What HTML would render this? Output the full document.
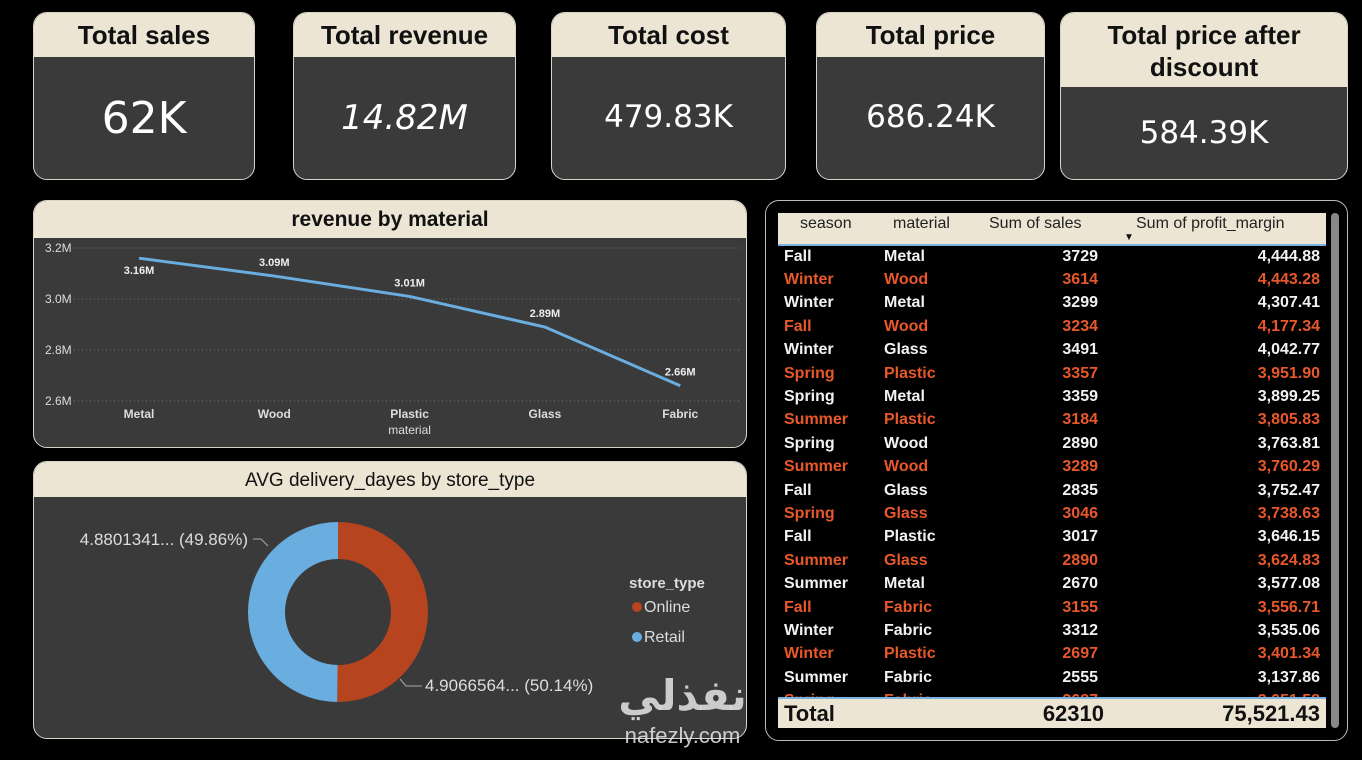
<!DOCTYPE html>
<html><head><meta charset="utf-8">
<style>
*{box-sizing:border-box;margin:0;padding:0}
body{width:1362px;height:760px;background:#000;position:relative;overflow:hidden;font-family:"Liberation Sans",sans-serif}
.card{position:absolute;background:#3a3a3a;border:1.5px solid #d8d4c8;border-radius:14px;overflow:hidden}
.hd{background:#ece5d3;color:#111;font-weight:bold;text-align:center}
.kv{color:#fff;text-align:center;position:absolute;left:0;right:0;font-family:"DejaVu Sans",sans-serif}
table{border-collapse:collapse;width:100%}
.tb td{height:23.4px;font-weight:bold;font-size:16px;color:#f2f2f2;padding:0 6px}
.tb tr.o td{color:#e8582a}
.r{text-align:right}
</style></head><body>
<div class="card" style="left:33px;top:12px;width:222px;height:168px">
 <div class="hd" style="height:44px;font-size:26px;line-height:44px">Total sales</div>
 <div class="kv" style="top:80px;font-size:44px">62K</div></div>
<div class="card" style="left:293px;top:12px;width:223px;height:168px">
 <div class="hd" style="height:44px;font-size:26px;line-height:44px">Total revenue</div>
 <div class="kv" style="top:85px;font-size:34px;font-style:italic">14.82M</div></div>
<div class="card" style="left:551px;top:12px;width:235px;height:168px">
 <div class="hd" style="height:44px;font-size:26px;line-height:44px">Total cost</div>
 <div class="kv" style="top:86px;font-size:31px">479.83K</div></div>
<div class="card" style="left:816px;top:12px;width:229px;height:168px">
 <div class="hd" style="height:44px;font-size:26px;line-height:44px">Total price</div>
 <div class="kv" style="top:86px;font-size:31px">686.24K</div></div>
<div class="card" style="left:1060px;top:12px;width:288px;height:168px">
 <div class="hd" style="height:74px;font-size:26px;line-height:32px;padding-top:6px">Total price after<br>discount</div>
 <div class="kv" style="top:102px;font-size:31px">584.39K</div></div>

<div class="card" style="left:33px;top:200px;width:714px;height:248px">
 <div class="hd" style="height:37px;font-size:21px;line-height:38px">revenue by material</div>
 <svg id="lc" width="714" height="211" style="position:absolute;left:0;top:37px"></svg>
</div>

<div class="card" style="left:33px;top:461px;width:714px;height:278px">
 <div class="hd" style="height:35px;font-size:19px;line-height:37px;font-weight:normal">AVG delivery_dayes by store_type</div>
 <svg id="dc" width="714" height="243" style="position:absolute;left:0;top:35px"></svg>
</div>

<div class="card" style="left:765px;top:200px;width:583px;height:541px;background:#000;border-color:#bbb">
 <div style="position:absolute;left:12px;top:12px;width:548px;height:33px;background:#ece5d3;border-bottom:2px solid #7bb3e0">
  <span style="position:absolute;left:22px;top:2px;font-size:16px;color:#222">season</span>
  <span style="position:absolute;left:115px;top:2px;font-size:16px;color:#222">material</span>
  <span style="position:absolute;left:211px;top:2px;font-size:16px;color:#222">Sum of sales</span>
  <span style="position:absolute;left:346px;top:19px;font-size:10px;color:#111">▼</span>
  <span style="position:absolute;left:358px;top:2px;font-size:16px;color:#222">Sum of profit_margin</span>
 </div>
 <div style="position:absolute;left:12px;top:44px;width:548px;height:452px;overflow:hidden">
 <table class="tb" id="tb"></table></div>
 <div style="position:absolute;left:12px;top:496px;width:548px;height:31px;background:#ece5d3;border-top:2px solid #7bb3e0;font-weight:bold;font-size:22px;color:#111">
  <span style="position:absolute;left:6px;top:2px">Total</span>
  <span style="position:absolute;right:222px;top:2px">62310</span>
  <span style="position:absolute;right:6px;top:2px">75,521.43</span></div>
 <div style="position:absolute;left:565px;top:12px;width:8px;height:515px;background:#888;border-radius:4px"></div>
</div>

<div style="position:absolute;left:595px;top:668px;width:175px;text-align:center;color:rgba(230,230,230,0.85)">
 <div style="font-family:'DejaVu Sans',sans-serif;font-size:42px;font-weight:bold;line-height:56px">نفذلي</div>
 <div style="font-size:22px;line-height:24px">nafezly.com</div></div>

<script>
const NS="http://www.w3.org/2000/svg";
function mk(p,t,a,txt){const e=document.createElementNS(NS,t);for(const k in a)e.setAttribute(k,a[k]);if(txt!=null)e.textContent=txt;p.appendChild(e);return e;}
// line chart data
const materials=["Metal","Wood","Plastic","Glass","Fabric"];
const revenue=[3.16,3.09,3.01,2.89,2.66];
const yTicks=[2.6,2.8,3.0,3.2];
const lc=document.getElementById('lc');
const x=i=>105+i*135.3;
function Y(v){return 163-(v-2.6)*255;}
yTicks.forEach(t=>{
 const g=mk(lc,'line',{x1:40,x2:705,y1:Y(t),y2:Y(t),stroke:'#777','stroke-dasharray':'1 3'});
 
 const l=mk(lc,'text',{x:11,y:Y(t)+4,fill:'#ddd','font-size':12},t.toFixed(1)+'M');
 
});
const pts=revenue.map((v,i)=>x(i)+','+Y(v)).join(' ');
const pl=mk(lc,'polyline',{points:pts,fill:'none',stroke:'#6aaee0','stroke-width':3});

revenue.forEach((v,i)=>{
 const off=i==0?16:-10;
 const t=mk(lc,'text',{x:x(i),y:Y(v)+off,fill:'#eee','font-size':11,'font-weight':'bold','text-anchor':'middle'},v.toFixed(2)+'M');
 
});
materials.forEach((m,i)=>{
 const t=mk(lc,'text',{x:x(i),y:180,fill:'#ddd','font-size':12,'font-weight':'bold','text-anchor':'middle'},m);
 
});
const xt=mk(lc,'text',{x:x(2),y:196,fill:'#ddd','font-size':12,'text-anchor':'middle'},'material');


// donut
const storeTypes=["Online","Retail"];
const delivery=[4.9066564,4.8801341];
const labels=["4.9066564... (50.14%)","4.8801341... (49.86%)"];
const colors=["#b5441f","#6aaee0"];
const dc=document.getElementById('dc');
const cx=304,cy=115,R=90,r=53;
const tot=delivery.reduce((a,b)=>a+b,0);
let a0=0;
delivery.forEach((v,i)=>{
 const a1=a0+v/tot*2*Math.PI;
 const p=(a,rad)=>[cx+rad*Math.sin(a),cy-rad*Math.cos(a)];
 const [x1,y1]=p(a0,R),[x2,y2]=p(a1,R),[x3,y3]=p(a1,r),[x4,y4]=p(a0,r);
 const lg=(a1-a0)>Math.PI?1:0;
 const s=mk(dc,'path',{d:`M${x1},${y1}A${R},${R} 0 ${lg} 1 ${x2},${y2}L${x3},${y3}A${r},${r} 0 ${lg} 0 ${x4},${y4}Z`,fill:colors[i]});
 
 a0=a1;
});
const l1=mk(dc,'polyline',{points:'366,182 372,189 388,189',fill:'none',stroke:'#aaa'});

const t1=mk(dc,'text',{x:391,y:194,fill:'#ddd','font-size':17},labels[0]);

const l2=mk(dc,'polyline',{points:'219,42 227,42 234,49',fill:'none',stroke:'#aaa'});

const t2=mk(dc,'text',{x:214,y:48,fill:'#ddd','font-size':17,'text-anchor':'end'},labels[1]);

const lt=mk(dc,'text',{x:595,y:91,fill:'#ddd','font-size':15,'font-weight':'bold'},'store_type');

storeTypes.forEach((s,i)=>{
 const c=mk(dc,'circle',{cx:603,cy:110+i*30,r:5,fill:colors[i]});
 
 const t=mk(dc,'text',{x:610,y:115+i*30,fill:'#ddd','font-size':16},s);
 
});

// table
const seasons=["Fall","Winter","Winter","Fall","Winter","Spring","Spring","Summer","Spring","Summer","Fall","Spring","Fall","Summer","Summer","Fall","Winter","Winter","Summer","Spring"];
const mats=["Metal","Wood","Metal","Wood","Glass","Plastic","Metal","Plastic","Wood","Wood","Glass","Glass","Plastic","Glass","Metal","Fabric","Fabric","Plastic","Fabric","Fabric"];
const sales=[3729,3614,3299,3234,3491,3357,3359,3184,2890,3289,2835,3046,3017,2890,2670,3155,3312,2697,2555,2687];
const margins=["4,444.88","4,443.28","4,307.41","4,177.34","4,042.77","3,951.90","3,899.25","3,805.83","3,763.81","3,760.29","3,752.47","3,738.63","3,646.15","3,624.83","3,577.08","3,556.71","3,535.06","3,401.34","3,137.86","3,051.58"];
const tb=document.getElementById('tb');
seasons.forEach((s,i)=>{
 const tr=document.createElement('tr');
 
 
 if(i%2)tr.className='o';
 tr.innerHTML=`<td style="width:100px">${s}</td><td style="width:120px">${mats[i]}</td><td class="r" style="width:106px">${sales[i]}</td><td class="r">${margins[i]}</td>`;
 tb.appendChild(tr);
});
</script>
</body></html>
